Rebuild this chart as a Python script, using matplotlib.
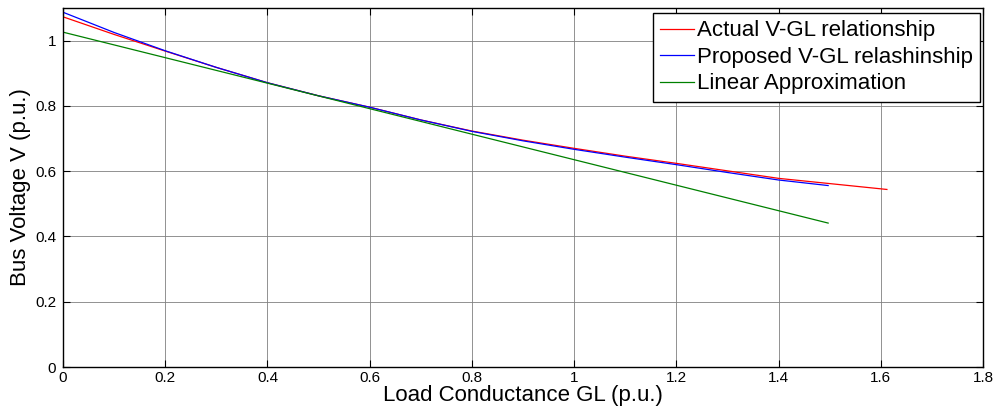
import matplotlib
matplotlib.use("Agg")
import matplotlib.pyplot as plt
from matplotlib.ticker import FuncFormatter

plt.rcParams['font.family'] = ['Liberation Sans', 'DejaVu Sans']

# Data
g_actual = [0.0, 0.1, 0.2, 0.3, 0.4, 0.5, 0.6, 0.7, 0.8, 0.9, 1.0, 1.1, 1.2, 1.3, 1.4, 1.5, 1.612]
v_actual = [1.073, 1.019, 0.968, 0.918, 0.871, 0.831, 0.796, 0.757, 0.723, 0.695, 0.670, 0.646, 0.624, 0.601, 0.578, 0.562, 0.544]

g_proposed = [0.0, 0.1, 0.2, 0.3, 0.4, 0.5, 0.6, 0.7, 0.8, 0.9, 1.0, 1.1, 1.2, 1.3, 1.4, 1.497]
v_proposed = [1.087, 1.025, 0.969, 0.918, 0.871, 0.831, 0.796, 0.757, 0.722, 0.693, 0.667, 0.643, 0.620, 0.596, 0.573, 0.556]

g_linear = [0.0, 1.497]
v_linear = [1.026, 0.441]

labels = ['Actual V-GL relationship', 'Proposed V-GL relashinship', 'Linear Approximation']
xticks = [0, 0.2, 0.4, 0.6, 0.8, 1.0, 1.2, 1.4, 1.6, 1.8]
yticks = [0, 0.2, 0.4, 0.6, 0.8, 1.0]

fig = plt.figure(figsize=(9.95, 4.15), dpi=100)
ax = fig.add_axes([63/995, 48/415, 920/995, 359/415])

ax.plot(g_actual, v_actual, color=(1, 0, 0), lw=0.9, label=labels[0])
ax.plot(g_proposed, v_proposed, color=(0, 0, 1), lw=0.9, label=labels[1])
ax.plot(g_linear, v_linear, color=(0, 0.5, 0), lw=0.9, label=labels[2])

ax.set_xlim(0, 1.8)
ax.set_ylim(0, 1.1)
ax.set_xticks(xticks)
ax.set_yticks(yticks)
fmt = FuncFormatter(lambda v, p: ('%g' % v))
ax.xaxis.set_major_formatter(fmt)
ax.yaxis.set_major_formatter(fmt)
ax.grid(True, color='#808080', lw=0.6, ls='-')
ax.set_axisbelow(True)
ax.tick_params(direction='in', top=True, right=True, length=5, width=0.8,
               labelsize=11)
ax.tick_params(axis='x', pad=3)
ax.tick_params(axis='y', pad=5)
for s in ax.spines.values():
    s.set_linewidth(1.0)
    s.set_color('black')

ax.set_xlabel('Load Conductance GL (p.u.)', fontsize=16, labelpad=0)
ax.set_ylabel('Bus Voltage V (p.u.)', fontsize=16, labelpad=3)

leg = ax.legend(loc='upper right', fontsize=16, frameon=True, fancybox=False,
                edgecolor='black', framealpha=1, handlelength=1.55,
                handletextpad=0.1, borderpad=0.33, labelspacing=0.25,
                borderaxespad=0, bbox_to_anchor=(980/995, 1 - 13/415),
                bbox_transform=fig.transFigure)
leg.get_frame().set_linewidth(1.0)

fig.savefig('out.png', dpi=100)
